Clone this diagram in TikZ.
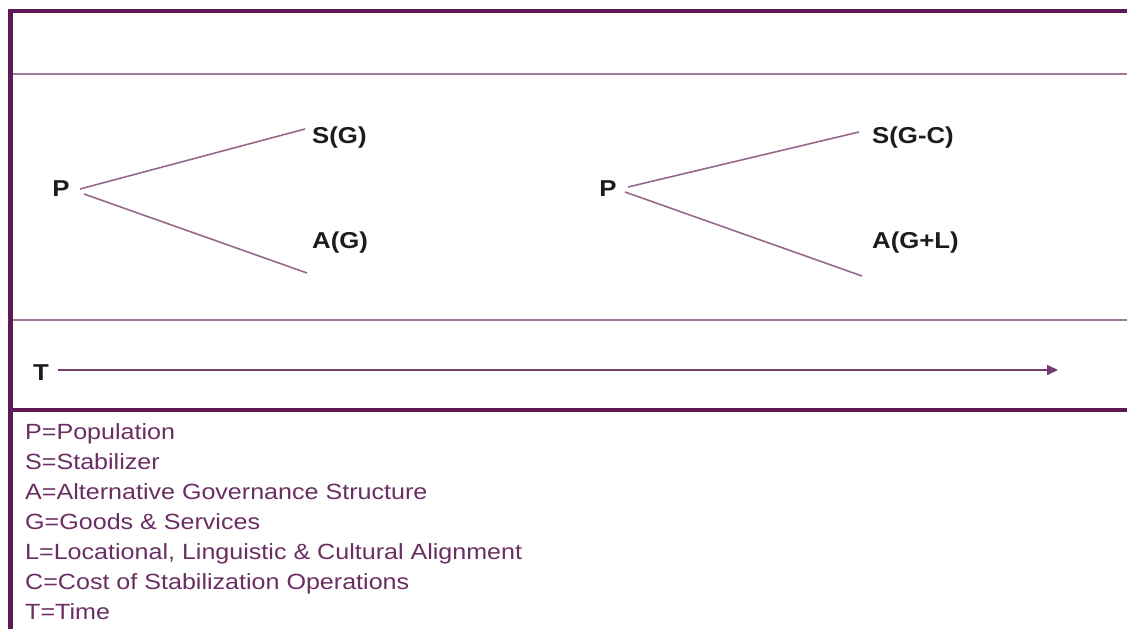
\documentclass[tikz,border=0pt]{standalone}
\usepackage{fontspec}
\setmainfont{Liberation Sans}
\newfontfamily\legendfont[FakeStretch=1.14]{Liberation Sans}
\newfontfamily\labelfont[FakeStretch=1.12]{Liberation Sans}
\usetikzlibrary{arrows.meta}
\definecolor{frame}{HTML}{5E1A55}
\definecolor{thin}{HTML}{A07A9A}
\definecolor{branch}{HTML}{94698C}
\definecolor{legendc}{HTML}{6A2E62}
\definecolor{labelc}{HTML}{1C1C1C}
\tikzset{
  thickrule/.style={draw=frame, line width=4.5pt},
  thinrule/.style={draw=thin, line width=1.6pt},
  branchline/.style={draw=branch, line width=1.6pt},
  lbl/.style={font=\labelfont\fontsize{23}{27}\selectfont\bfseries, text=labelc, inner sep=0pt, anchor=west},
  legend/.style={font=\legendfont\fontsize{22}{26}\selectfont, text=legendc, inner sep=0pt, anchor=base west},
  timearrow/.style={draw=frame!85!white, line width=1.6pt, -{Triangle[length=11pt,width=10pt]}},
}
\begin{document}
\begin{tikzpicture}[x=1pt,y=-1pt]
\useasboundingbox (0,0) rectangle (1127,629);
% frame
\draw[thinrule] (11,74) -- (1127,74);
\draw[thinrule] (11,320) -- (1127,320);
\draw[thickrule] (10.5,410) -- (1127,410);
\draw[thickrule] (10.5,629) -- (10.5,11) -- (1127,11);
% tree 1
\node[lbl, anchor=center] (P1) at (61,189) {P};
\node[lbl] (S1) at (312,138) {S(G)};
\node[lbl] (A1) at (312,243) {A(G)};
\coordinate (s1a) at (80,189);
\coordinate (s1b) at (305,129);
\coordinate (a1a) at (84,194);
\coordinate (a1b) at (307,273);
\draw[branchline] (s1a) -- (s1b);
\draw[branchline] (a1a) -- (a1b);
% tree 2
\node[lbl, anchor=center] (P2) at (608,189) {P};
\node[lbl] (S2) at (872,138) {S(G-C)};
\node[lbl] (A2) at (872,243) {A(G+L)};
\coordinate (s2a) at (628,187);
\coordinate (s2b) at (859,132);
\coordinate (a2a) at (625,192);
\coordinate (a2b) at (862,276);
\draw[branchline] (s2a) -- (s2b);
\draw[branchline] (a2a) -- (a2b);
% time
\node[lbl, anchor=center] (T) at (41,373) {T};
\coordinate (tstart) at (58,370);
\coordinate (tend) at (1058,370);
\draw[timearrow] (tstart) -- (tend);
% legend
\node[legend] (l1) at (25,439) {P=Population};
\node[legend] (l2) at (25,469) {S=Stabilizer};
\node[legend] (l3) at (25,499) {A=Alternative Governance Structure};
\node[legend] (l4) at (25,529) {G=Goods \& Services};
\node[legend] (l5) at (25,559) {L=Locational, Linguistic \& Cultural Alignment};
\node[legend] (l6) at (25,589) {C=Cost of Stabilization Operations};
\node[legend] (l7) at (25,619) {T=Time};
\end{tikzpicture}
\end{document}
